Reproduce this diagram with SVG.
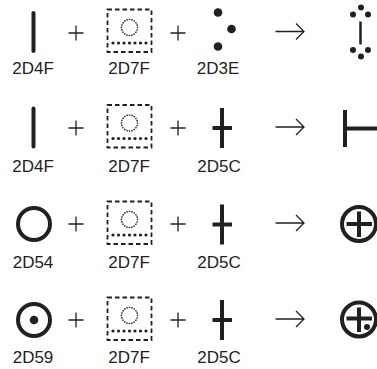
<svg xmlns="http://www.w3.org/2000/svg" width="377" height="369" viewBox="0 0 377 369">
<style>
.lbl{font-family:"Liberation Sans",Arial,sans-serif;font-size:17px;fill:#231f20;text-anchor:middle}
.thick{stroke:#231f20;stroke-width:4;fill:none}
.thin{stroke:#231f20;stroke-width:1.3;fill:none}
.box{stroke:#231f20;stroke-width:1.8;fill:none;stroke-dasharray:4.5 3}
.dc{stroke:#231f20;stroke-width:1.6;fill:none;stroke-dasharray:0.1 2.4;stroke-linecap:round}
.dot{fill:#231f20}
</style>
<defs>
<g id="plus"><path class="thin" d="M-7.5 0H7.5M0 -7.5V7.5"/></g>
<g id="arrow"><path class="thin" d="M-14.5 0H14M6 -8L14 0L6 8"/></g>
<g id="ph">
<rect class="box" x="107.5" y="-22" width="44" height="42.5"/>
<circle class="dc" cx="129.5" cy="-4" r="8"/>
<g class="dot"><circle cx="113" cy="11.5" r="1.6"/><circle cx="118.5" cy="11.5" r="1.6"/><circle cx="124" cy="11.5" r="1.6"/><circle cx="129.5" cy="11.5" r="1.6"/><circle cx="135" cy="11.5" r="1.6"/><circle cx="140.5" cy="11.5" r="1.6"/><circle cx="146" cy="11.5" r="1.6"/></g>
</g>
<g id="cross"><path class="thick" d="M222 -20V20M212.5 0H232"/></g>
</defs>
<g id="connectors">
<use href="#plus" x="76" y="33"/><use href="#plus" x="178" y="33"/><use href="#arrow" x="290" y="31.5"/>
<use href="#plus" x="76" y="128"/><use href="#plus" x="178" y="128"/><use href="#arrow" x="290" y="127"/>
<use href="#plus" x="76" y="224"/><use href="#plus" x="178" y="224"/><use href="#arrow" x="290" y="223"/>
<use href="#plus" x="76" y="320"/><use href="#plus" x="178" y="320"/><use href="#arrow" x="290" y="319"/>
</g>
<g id="row1">
<g id="n-2D4F-1"><line class="thick" x1="33.5" y1="13" x2="33.5" y2="51" stroke-linecap="round"/><text class="lbl" x="33" y="74">2D4F</text></g>
<g id="n-2D7F-1"><use href="#ph" y="31.5"/><text class="lbl" x="129" y="74">2D7F</text></g>
<g id="n-2D3E"><g class="dot"><circle cx="218" cy="12.5" r="4.3"/><circle cx="231.5" cy="29" r="4.3"/><circle cx="218" cy="46.5" r="4.3"/></g><text class="lbl" x="218" y="74">2D3E</text></g>
<g id="r1"><line stroke="#231f20" stroke-width="2.5" x1="360.5" y1="21.5" x2="360.5" y2="44.5"/><g class="dot"><circle cx="361" cy="7.5" r="3"/><circle cx="353" cy="14.5" r="3"/><circle cx="368" cy="14.5" r="3"/><circle cx="353" cy="50" r="3"/><circle cx="368" cy="50" r="3"/><circle cx="361" cy="56.5" r="3"/></g></g>
</g>
<g id="row2">
<g id="n-2D4F-2"><line class="thick" x1="33.5" y1="108.5" x2="33.5" y2="146.5" stroke-linecap="round"/><text class="lbl" x="33" y="172">2D4F</text></g>
<g id="n-2D7F-2"><use href="#ph" y="127"/><text class="lbl" x="129" y="172">2D7F</text></g>
<g id="n-2D5C-2"><use href="#cross" y="128"/><text class="lbl" x="219" y="172">2D5C</text></g>
<g id="r2"><path class="thick" d="M345 110V147M345 128.5H377"/></g>
</g>
<g id="row3">
<g id="n-2D54"><circle class="thick" cx="34" cy="224" r="16"/><text class="lbl" x="33" y="268">2D54</text></g>
<g id="n-2D7F-3"><use href="#ph" y="223.5"/><text class="lbl" x="129" y="268">2D7F</text></g>
<g id="n-2D5C-3"><use href="#cross" y="224.5"/><text class="lbl" x="219" y="268">2D5C</text></g>
<g id="r3"><circle class="thick" cx="359" cy="224" r="17"/><path class="thick" d="M359 211.5V237M346.5 224H372"/></g>
</g>
<g id="row4">
<g id="n-2D59"><circle class="thick" cx="34" cy="320" r="16"/><circle class="dot" cx="34" cy="320" r="4.3"/><text class="lbl" x="33" y="363">2D59</text></g>
<g id="n-2D7F-4"><use href="#ph" y="319.5"/><text class="lbl" x="129" y="363">2D7F</text></g>
<g id="n-2D5C-4"><use href="#cross" y="320"/><text class="lbl" x="219" y="363">2D5C</text></g>
<g id="r4"><circle class="thick" cx="359" cy="319.5" r="17"/><path class="thick" d="M359 307.5V332M346.5 318.5H372"/><circle class="dot" cx="367" cy="327" r="3"/></g>
</g>
</svg>
